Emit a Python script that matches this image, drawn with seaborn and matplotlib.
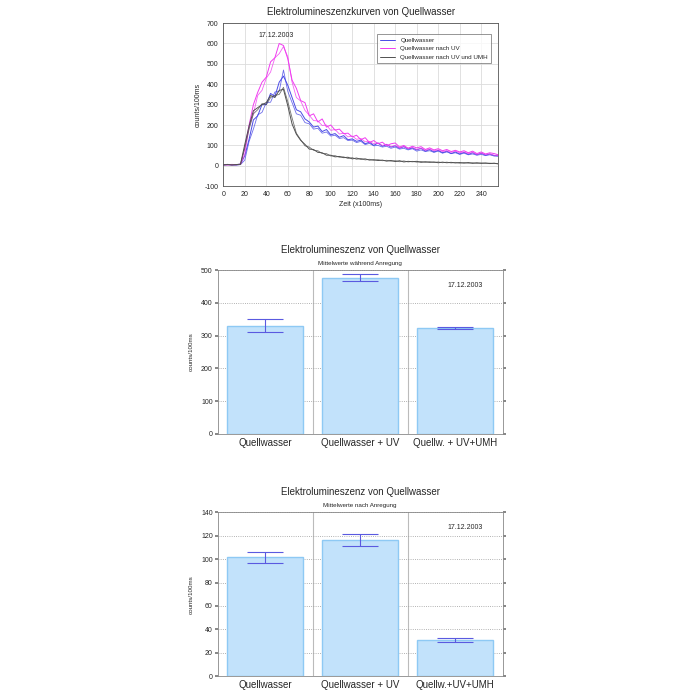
import numpy as np
import pandas as pd
import matplotlib
matplotlib.use('Agg')
import matplotlib.pyplot as plt
import seaborn as sns

sns.set_theme(style='white')
plt.rcParams['font.family'] = ['Liberation Sans', 'DejaVu Sans']
plt.rcParams['axes.unicode_minus'] = False

# Zeitachse (x100ms)
zeit = list(range(0, 257, 4))

# Elektrolumineszenzkurven, je zwei Messungen pro Probe
quell_a = [5, 7, 4, 6, 8, 50, 130, 225, 245, 300, 300, 355, 340, 410, 440, 395, 335, 275, 265, 230,
           215, 190, 195, 168, 178, 152, 158, 140, 148, 128, 132, 120, 126, 108, 116, 100, 112, 96, 104, 92,
           98, 86, 94, 82, 88, 78, 86, 72, 80, 68, 76, 64, 72, 60, 68, 58, 66, 56, 64, 54, 62, 52, 58, 50, 52]
quell_b = [4, 5, 6, 3, 6, 28, 120, 180, 250, 262, 310, 312, 362, 365, 470, 365, 310, 255, 248, 212,
           206, 180, 184, 160, 166, 146, 150, 134, 138, 124, 126, 114, 120, 104, 110, 98, 100, 92, 96, 86,
           92, 82, 86, 78, 84, 72, 78, 70, 74, 66, 72, 62, 68, 60, 64, 56, 62, 54, 58, 52, 56, 50, 54, 48, 46]
uv_a = [6, 4, 7, 5, 8, 85, 200, 300, 360, 410, 435, 510, 530, 600, 590, 525, 420, 380, 320, 310,
        245, 255, 215, 230, 190, 200, 175, 180, 158, 160, 142, 150, 128, 138, 114, 124, 108, 116, 98, 108,
        112, 92, 100, 86, 96, 88, 94, 80, 88, 78, 84, 74, 80, 70, 76, 68, 74, 64, 72, 60, 68, 58, 64, 60, 54]
uv_b = [5, 6, 4, 6, 7, 55, 190, 255, 345, 370, 430, 460, 530, 550, 585, 535, 410, 335, 318, 272,
        248, 222, 220, 198, 200, 174, 178, 156, 160, 142, 146, 130, 134, 118, 120, 108, 112, 100, 106, 94,
        100, 88, 94, 86, 90, 80, 86, 76, 82, 74, 78, 70, 74, 66, 72, 64, 68, 60, 66, 56, 62, 56, 58, 52, 50]
umh_a = [5, 6, 4, 6, 8, 105, 195, 270, 285, 300, 310, 345, 335, 370, 375, 295, 205, 155, 125, 105,
         82, 80, 66, 64, 52, 52, 44, 46, 40, 42, 34, 38, 32, 34, 28, 30, 26, 28, 23, 26,
         21, 25, 19, 22, 20, 22, 17, 20, 17, 19, 15, 18, 15, 17, 14, 16, 13, 16, 12, 15, 12, 14, 11, 13, 9]
umh_b = [4, 6, 5, 5, 6, 88, 180, 255, 275, 305, 300, 335, 345, 350, 385, 315, 235, 160, 128, 98,
         92, 76, 74, 60, 60, 48, 50, 42, 44, 36, 40, 32, 36, 29, 32, 27, 30, 25, 27, 23,
         25, 20, 24, 19, 22, 18, 21, 17, 20, 16, 19, 15, 18, 14, 17, 13, 16, 13, 15, 12, 14, 12, 13, 11, 12]

# Mittelwerte
kat_waehrend = ['Quellwasser', 'Quellwasser + UV', 'Quellw. + UV+UMH']
mw_waehrend = [330, 477, 323]
fehler_waehrend = [20, 10, 3]

kat_nach = ['Quellwasser', 'Quellwasser + UV', 'Quellw.+UV+UMH']
mw_nach = [101.5, 116.5, 31]
fehler_nach = [5, 5, 1.5]

datum = '17.12.2003'

fig = plt.figure(figsize=(7, 7), dpi=100)
fig.patch.set_facecolor('white')

# --- Kurven ---
ax1 = fig.add_axes([0.319, 0.734, 0.393, 0.233])
farben = {'Quellwasser': '#4a4ae6', 'Quellwasser nach UV': '#f03cf0', 'Quellwasser nach UV und UMH': '#505050'}
kurven = [('Quellwasser', quell_a, quell_b),
          ('Quellwasser nach UV', uv_a, uv_b),
          ('Quellwasser nach UV und UMH', umh_a, umh_b)]
for name, a, b in kurven:
    sns.lineplot(x=zeit, y=a, ax=ax1, color=farben[name], lw=0.7, label=name)
    sns.lineplot(x=zeit, y=b, ax=ax1, color=farben[name], lw=0.6, alpha=0.8)
ax1.set_xlim(0, 256)
ax1.set_ylim(-100, 700)
ax1.set_xticks(range(0, 241, 20))
ax1.set_yticks(range(-100, 701, 100))
ax1.grid(True, color='#dcdcdc', lw=0.6)
ax1.tick_params(labelsize=5, length=2, pad=1.5, color='#555555')
ax1.set_xlabel('Zeit (x100ms)', fontsize=5, labelpad=2)
ax1.set_ylabel('counts/100ms', fontsize=5, labelpad=2)
ax1.set_title('Elektrolumineszenzkurven von Quellwasser', fontsize=7, pad=6)
ax1.text(33, 630, datum, fontsize=5)
for s in ax1.spines.values():
    s.set_color('#555555')
    s.set_linewidth(0.6)
leg = ax1.legend(loc='upper right', fontsize=4.5, frameon=True, fancybox=False,
                 edgecolor='#666666', handlelength=2.5, borderpad=0.5, bbox_to_anchor=(0.985, 0.95))
leg.get_frame().set_linewidth(0.6)


def balken(ax, kat, mw, fehler, titel, untertitel, ymax, ystep):
    sns.barplot(x=kat, y=mw, ax=ax, color='#c2e2fb', width=0.8, edgecolor='#8ec9f4', linewidth=1.0,
                saturation=1)
    ax.errorbar(range(len(kat)), mw, yerr=fehler, fmt='none', ecolor='#5a5ae0', elinewidth=0.8,
                capsize=13, capthick=0.8)
    ax.set_xlim(-0.5, len(kat) - 0.5)
    ax.set_ylim(0, ymax)
    ax.set_yticks(np.arange(0, ymax + 1, ystep))
    ax.yaxis.grid(True, ls=':', color='#999999', lw=0.6)
    for xp in [0.5, 1.5]:
        ax.axvline(xp, color='#bbbbbb', lw=0.8, zorder=0)
    ax.set_axisbelow(True)
    ax.tick_params(axis='y', labelsize=5, length=2, pad=1.5, right=True, left=True, color='#777777')
    ax.tick_params(axis='x', labelsize=7, length=0, pad=3)
    ax.set_ylabel('counts/100ms', fontsize=4.5, labelpad=5)
    ax.text(0.5, 1.105, titel, transform=ax.transAxes, ha='center', fontsize=7)
    ax.text(0.5, 1.03, untertitel, transform=ax.transAxes, ha='center', fontsize=4.5)
    ax.text(0.93, 0.9, datum, transform=ax.transAxes, ha='right', fontsize=5)
    for s in ax.spines.values():
        s.set_color('#888888')
        s.set_linewidth(0.6)


ax2 = fig.add_axes([0.311, 0.380, 0.407, 0.234])
balken(ax2, kat_waehrend, mw_waehrend, fehler_waehrend, 'Elektrolumineszenz von Quellwasser',
       'Mittelwerte während Anregung', 500, 100)

ax3 = fig.add_axes([0.311, 0.034, 0.407, 0.234])
balken(ax3, kat_nach, mw_nach, fehler_nach, 'Elektrolumineszenz von Quellwasser',
       'Mittelwerte nach Anregung', 140, 20)

fig.savefig('out.png', dpi=100, facecolor='white')
